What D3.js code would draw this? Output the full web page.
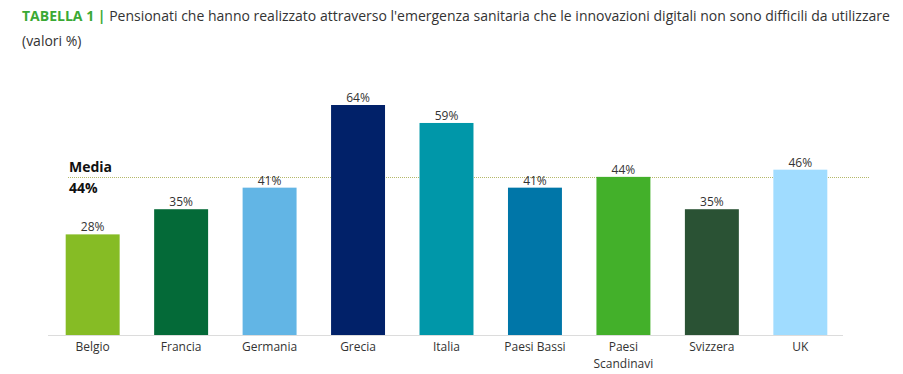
<!DOCTYPE html>
<html>
<head>
<meta charset="utf-8">
<script src="https://cdn.jsdelivr.net/npm/d3@7"></script>
<style>
  body { margin: 0; background: #fff; font-family: "Open Sans", sans-serif; }
</style>
</head>
<body>
<div id="chart"></div>
<script>
// data
var countries = ["Belgio", "Francia", "Germania", "Grecia", "Italia", "Paesi Bassi", "Paesi Scandinavi", "Svizzera", "UK"];
var values = [28, 35, 41, 64, 59, 41, 44, 35, 46];
var colors = ["#86bc25", "#046a38", "#62b5e5", "#012169", "#0097a9", "#0076a8", "#43b02a", "#2a5234", "#a0dcff"];
var average = 44;

var widthSVG = 903;
var heightSVG = 374;

var svg = d3.select("#chart")
  .append("svg")
  .attr("width", widthSVG)
  .attr("height", heightSVG);

// title
var title = svg.append("text")
  .attr("x", 22)
  .attr("y", 21)
  .attr("font-size", 14)
  .attr("fill", "#333");
title.append("tspan")
  .attr("font-weight", "bold")
  .attr("fill", "#3aa935")
  .text("TABELLA 1 | ");
title.append("tspan")
  .text("Pensionati che hanno realizzato attraverso l'emergenza sanitaria che le innovazioni digitali non sono difficili da utilizzare");

svg.append("text")
  .attr("x", 22)
  .attr("y", 46)
  .attr("font-size", 14)
  .attr("fill", "#333")
  .text("(valori %)");

// scales
var x = d3.scaleBand()
  .domain(countries)
  .range([48, 845])
  .paddingInner(0.39)
  .paddingOuter(0.2);

var y = d3.scaleLinear()
  .domain([0, 64])
  .range([335, 105]);

// baseline
svg.append("line")
  .attr("x1", 48)
  .attr("x2", 843)
  .attr("y1", y(0) + 0.5)
  .attr("y2", y(0) + 0.5)
  .attr("stroke", "#dcdcdc")
  .attr("stroke-width", 1);

// average line
svg.append("line")
  .attr("x1", 68)
  .attr("x2", 870)
  .attr("y1", Math.round(y(average)) + 0.5)
  .attr("y2", Math.round(y(average)) + 0.5)
  .attr("stroke", "#b5b86a")
  .attr("stroke-width", 1)
  .attr("stroke-dasharray", "1,1");

svg.append("text")
  .attr("x", 69)
  .attr("y", 172)
  .attr("font-size", 14)
  .attr("font-weight", "bold")
  .attr("fill", "#111")
  .text("Media");
svg.append("text")
  .attr("x", 69)
  .attr("y", 193)
  .attr("font-size", 14)
  .attr("font-weight", "bold")
  .attr("fill", "#111")
  .text(average + "%");

// bars
var bars = svg.selectAll(".bar").data(countries).enter();
bars.append("rect")
  .attr("x", d => x(d))
  .attr("y", (d, i) => y(values[i]))
  .attr("width", x.bandwidth())
  .attr("height", (d, i) => y(0) - y(values[i]))
  .attr("fill", (d, i) => colors[i]);

bars.append("text")
  .attr("x", d => x(d) + x.bandwidth() / 2)
  .attr("y", (d, i) => y(values[i]) - 3)
  .attr("text-anchor", "middle")
  .attr("font-size", 12)
  .attr("fill", "#333")
  .text((d, i) => values[i] + "%");

// category labels, one text per line
countries.forEach(function(d) {
  var parts = d === "Paesi Scandinavi" ? ["Paesi", "Scandinavi"] : [d];
  parts.forEach(function(p, j) {
    svg.append("text")
      .attr("x", x(d) + x.bandwidth() / 2)
      .attr("y", 351 + j * 16.5)
      .attr("text-anchor", "middle")
      .attr("font-size", 12)
      .attr("fill", "#333")
      .text(p);
  });
});
</script>
</body>
</html>
